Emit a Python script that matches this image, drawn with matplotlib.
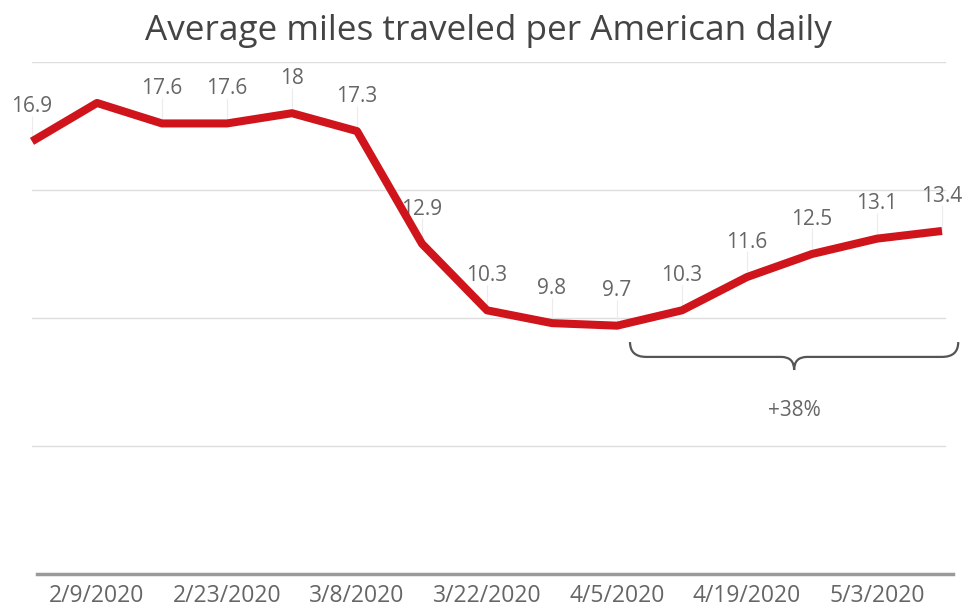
"""Average miles traveled per American daily - line chart."""
import numpy as np
import matplotlib.pyplot as plt
from matplotlib.path import Path
from matplotlib.patches import PathPatch

plt.rcParams['font.family'] = ['Open Sans', 'DejaVu Sans']

# weekly points, 2/2/2020 .. 5/10/2020
weeks = ['2/2/2020', '2/9/2020', '2/16/2020', '2/23/2020', '3/1/2020',
         '3/8/2020', '3/15/2020', '3/22/2020', '3/29/2020', '4/5/2020',
         '4/12/2020', '4/19/2020', '4/26/2020', '5/3/2020', '5/10/2020']
miles = [16.9, 18.4, 17.6, 17.6, 18.0, 17.3, 12.9, 10.3, 9.8, 9.7,
         10.3, 11.6, 12.5, 13.1, 13.4]
point_labels = ['16.9', None, '17.6', '17.6', '18', '17.3', '12.9', '10.3',
                '9.8', '9.7', '10.3', '11.6', '12.5', '13.1', '13.4']
tick_idx = [1, 3, 5, 7, 9, 11, 13]
grid_vals = [5, 10, 15, 20]

# bracket spanning the recovery (4/5 -> 5/10)
bracket_start, bracket_end = 9, 14
change_text = '+38%'

RED = '#d0141c'
GRAY_TXT = '#666666'

fig = plt.figure(figsize=(9.66, 6.09), dpi=100)
ax = fig.add_axes([32 / 966, 35 / 609, 921 / 966, 512 / 609])

x = np.arange(len(miles))
ax.set_xlim(0, 921 / 65)
ax.set_ylim(0, 20)

for g in grid_vals:
    ax.axhline(g, xmin=0, xmax=913 / 921, color='#dedede', lw=1, zorder=0)
ax.axhline(0, xmin=5 / 921, color='#9a9a9a', lw=2.5, zorder=1, clip_on=False)

# faint leader lines + value labels
for xi, yi, lab in zip(x, miles, point_labels):
    if lab is None:
        continue
    ax.vlines(xi, yi, yi + 1.0, color='#ececec', lw=0.8, zorder=1)
    ax.annotate(lab, (xi, yi), xytext=(0, 25), textcoords='offset points',
                ha='center', va='center', fontsize=15, color=GRAY_TXT)

ax.plot(x, miles, color=RED, lw=5.8, solid_joinstyle='round',
        solid_capstyle='butt', zorder=3, clip_on=False)

# curly bracket
x0, x1 = bracket_start + 0.2, bracket_end + 0.25
xm = (x0 + x1) / 2
y_top, y_h, y_tip = 9.06, 8.48, 7.97
verts = [(x0, y_top), (x0, y_h), (x0 + 0.25, y_h),
         (xm - 0.2, y_h),
         (xm, y_h), (xm, y_tip),
         (xm, y_h), (xm + 0.2, y_h),
         (x1 - 0.25, y_h),
         (x1, y_h), (x1, y_top)]
codes = [Path.MOVETO, Path.CURVE3, Path.CURVE3, Path.LINETO,
         Path.CURVE3, Path.CURVE3, Path.CURVE3, Path.CURVE3,
         Path.LINETO, Path.CURVE3, Path.CURVE3]
ax.add_patch(PathPatch(Path(verts, codes), fill=False, ec='#555555',
                       lw=1.6, clip_on=False))
ax.text(xm, 6.4, change_text, ha='center', va='center', fontsize=15,
        color=GRAY_TXT)

ax.set_xticks(tick_idx)
ax.set_xticklabels([weeks[i] for i in tick_idx], fontsize=16.5, color=GRAY_TXT)
ax.tick_params(axis='x', length=0, pad=7)
ax.set_yticks([])
for s in ax.spines.values():
    s.set_visible(False)

fig.text(488 / 966, 1 - 31 / 609, 'Average miles traveled per American daily',
         ha='center', va='center', fontsize=25.3, color='#444444')

fig.savefig('out.png', dpi=100)
